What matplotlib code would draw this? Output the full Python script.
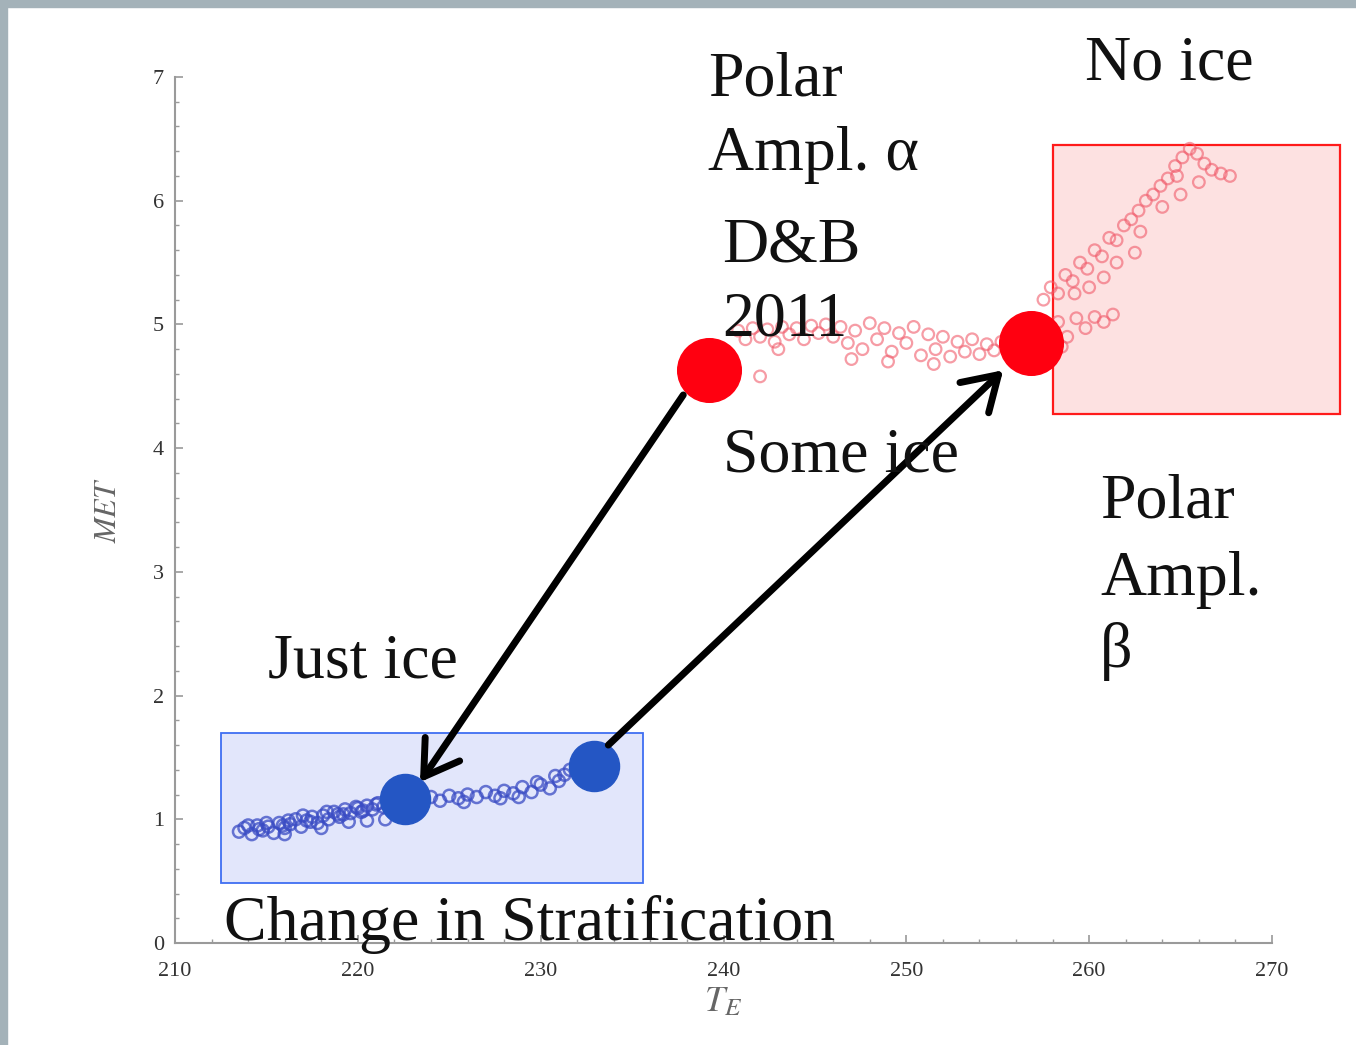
import matplotlib
matplotlib.use("Agg")
import matplotlib.pyplot as plt
from matplotlib.patches import Rectangle
from matplotlib.ticker import MultipleLocator

plt.rcParams["mathtext.fontset"] = "stix"

W, H = 1356, 1045

# ---------------- data ----------------
blue_x = [213.5, 213.8, 214.2, 214.5, 214.8, 215.1, 215.4, 215.7, 216.0, 216.3,
          216.6, 216.9, 217.2, 217.5, 217.8, 218.1, 218.4, 218.7, 219.0, 219.3,
          219.6, 219.9, 220.2, 220.5, 220.8, 221.1, 221.4, 221.7, 218.0, 216.0,
          219.5, 220.5, 221.5, 223.5, 224.0, 224.5, 225.0, 225.5, 226.0, 226.5,
          227.0, 227.5, 228.0, 228.5, 229.0, 229.5, 230.0, 230.5, 231.0, 231.3,
          231.6, 230.8, 229.8, 228.8, 214.0, 215.0, 216.2, 217.0, 218.3, 219.2,
          220.0, 221.0, 214.6, 215.9, 217.4, 218.9, 220.3, 221.9, 225.8, 227.8]
blue_y = [0.90, 0.93, 0.88, 0.95, 0.91, 0.94, 0.89, 0.97, 0.93, 0.96,
          1.00, 0.94, 0.99, 1.02, 0.97, 1.03, 1.00, 1.06, 1.02, 1.08,
          1.05, 1.10, 1.06, 1.11, 1.08, 1.13, 1.10, 1.15, 0.93, 0.88,
          0.98, 0.99, 1.00, 1.16, 1.18, 1.15, 1.19, 1.17, 1.20, 1.18,
          1.22, 1.19, 1.23, 1.21, 1.26, 1.22, 1.28, 1.25, 1.31, 1.36,
          1.40, 1.35, 1.30, 1.18, 0.95, 0.97, 0.99, 1.03, 1.06, 1.04,
          1.09, 1.12, 0.92, 0.95, 0.98, 1.04, 1.07, 1.12, 1.14, 1.17]

red_x = [240.8, 241.2, 241.6, 242.0, 242.4, 242.8, 243.2, 243.6, 244.0, 244.4,
         244.8, 245.2, 245.6, 246.0, 246.4, 246.8, 247.2, 247.6, 248.0, 248.4,
         248.8, 249.2, 249.6, 250.0, 250.4, 250.8, 251.2, 251.6, 252.0, 252.4,
         252.8, 253.2, 253.6, 254.0, 254.4, 254.8, 255.2, 255.6, 242.0, 243.0,
         247.0, 249.0, 251.5,
         257.8, 258.3, 258.8, 259.3, 259.8, 260.3, 260.8, 261.3, 258.5,
         257.5, 257.9, 258.3, 258.7, 259.1, 259.5, 259.9, 260.3, 260.7, 261.1,
         261.5, 261.9, 262.3, 262.7, 263.1, 263.5, 263.9, 264.3, 264.7, 265.1,
         265.5, 265.9, 266.3, 266.7, 267.2, 267.7, 259.2, 260.0, 260.8, 261.5,
         262.5, 264.0, 265.0, 266.0, 264.8, 262.8]
red_y = [4.95, 4.88, 4.97, 4.90, 4.96, 4.86, 4.98, 4.92, 4.97, 4.88,
         4.99, 4.93, 5.00, 4.90, 4.98, 4.85, 4.95, 4.80, 5.01, 4.88,
         4.97, 4.78, 4.93, 4.85, 4.98, 4.75, 4.92, 4.80, 4.90, 4.74,
         4.86, 4.78, 4.88, 4.76, 4.84, 4.79, 4.86, 4.80, 4.58, 4.80,
         4.72, 4.70, 4.68,
         4.95, 5.02, 4.90, 5.05, 4.97, 5.06, 5.02, 5.08, 4.82,
         5.20, 5.30, 5.25, 5.40, 5.35, 5.50, 5.45, 5.60, 5.55, 5.70,
         5.68, 5.80, 5.85, 5.92, 6.00, 6.05, 6.12, 6.18, 6.28, 6.35,
         6.42, 6.38, 6.30, 6.25, 6.22, 6.20, 5.25, 5.30, 5.38, 5.50,
         5.58, 5.95, 6.05, 6.15, 6.20, 5.75]

red_big_x = [239.2, 256.8]
red_big_y = [4.63, 4.85]
blue_big_x = [222.6, 232.9]
blue_big_y = [1.16, 1.43]

arrow1 = [(237.8, 4.43), (223.4, 1.30)]   # tail, head
arrow2 = [(233.7, 1.60), (255.3, 4.63)]

blue_box = (212.5, 0.485, 23.1, 1.215)     # x, y, width, height
red_box = (258.0, 4.28, 15.7, 2.17)

xticks = [210, 220, 230, 240, 250, 260, 270]
yticks = [0, 1, 2, 3, 4, 5, 6, 7]

# ---------------- figure ----------------
fig = plt.figure(figsize=(W / 100, H / 100), dpi=100)
fig.patch.set_facecolor("white")
# slide border
fig.patches.append(Rectangle((0, 1 - 7 / H), 1, 7 / H, transform=fig.transFigure,
                             color="#a4b2b9", zorder=0))
fig.patches.append(Rectangle((0, 0), 7 / W, 1, transform=fig.transFigure,
                             color="#a4b2b9", zorder=0))

ax = fig.add_axes([175 / W, 1 - 943 / H, (1272 - 175) / W, (943 - 77) / H])
ax.set_xlim(210, 270)
ax.set_ylim(0, 7)
for s in ["top", "right"]:
    ax.spines[s].set_visible(False)
for s in ["left", "bottom"]:
    ax.spines[s].set_color("#9a9a9a")
    ax.spines[s].set_linewidth(1.5)
ax.set_xticks(xticks)
ax.set_yticks(yticks)
ax.xaxis.set_minor_locator(MultipleLocator(2))
ax.yaxis.set_minor_locator(MultipleLocator(0.2))
ax.tick_params(which="both", direction="in", color="#9a9a9a")
ax.tick_params(which="major", length=6, width=1.2)
ax.tick_params(which="minor", length=3, width=1.0)
ax.tick_params(axis="x", pad=14, labelsize=16, labelcolor="#333333")
ax.tick_params(axis="y", pad=8, labelsize=16, labelcolor="#333333")
for lab in ax.get_xticklabels() + ax.get_yticklabels():
    lab.set_family("Liberation Serif")

ax.set_xlabel("$T_E$", fontsize=26, color="#666666", labelpad=2)
ax.set_ylabel("$MET$", fontsize=22, color="#666666", labelpad=22)

# boxes
ax.add_patch(Rectangle(blue_box[:2], blue_box[2], blue_box[3], facecolor="#e2e6fb",
                       edgecolor="#3f6ef2", lw=1.3, zorder=1, clip_on=False))
ax.add_patch(Rectangle(red_box[:2], red_box[2], red_box[3], facecolor="#fde1e1",
                       edgecolor="#ff1a1a", lw=1.6, zorder=1, clip_on=False))

# scatter
ax.scatter(blue_x, blue_y, s=75, facecolors="none", edgecolors="#3a4cc4",
           linewidths=1.8, alpha=0.75, zorder=2)
ax.scatter(red_x, red_y, s=70, facecolors="none", edgecolors="#f05a6a",
           linewidths=1.6, alpha=0.6, zorder=2, clip_on=False)

ax.scatter(red_big_x, red_big_y, s=2100, color="#ff0010", zorder=4, clip_on=False)
ax.scatter(blue_big_x, blue_big_y, s=1300, color="#2456c4", zorder=4)

for (t, h) in [arrow1, arrow2]:
    ax.annotate("", xy=h, xytext=t,
                arrowprops=dict(arrowstyle="->,head_length=0.8,head_width=0.5",
                                lw=5, color="black", shrinkA=0, shrinkB=0,
                                mutation_scale=30),
                zorder=5)

# annotations on slide
texts = [
    ("Polar", 708, 95), ("Ampl. \u03b1", 708, 170),
    ("D&B", 722, 262), ("2011", 722, 335),
    ("No ice", 1085, 80), ("Some ice", 723, 472),
    ("Polar", 1100, 517), ("Ampl.", 1100, 595), ("\u03b2", 1100, 667),
    ("Just ice", 268, 678), ("Change in Stratification", 224, 940),
]
for s, px, py in texts:
    fig.text(px / W, 1 - py / H, s, family=["Liberation Serif", "DejaVu Serif"],
             fontsize=46, color="#111111", ha="left", va="baseline", zorder=10)

fig.savefig("out.png", dpi=100)
